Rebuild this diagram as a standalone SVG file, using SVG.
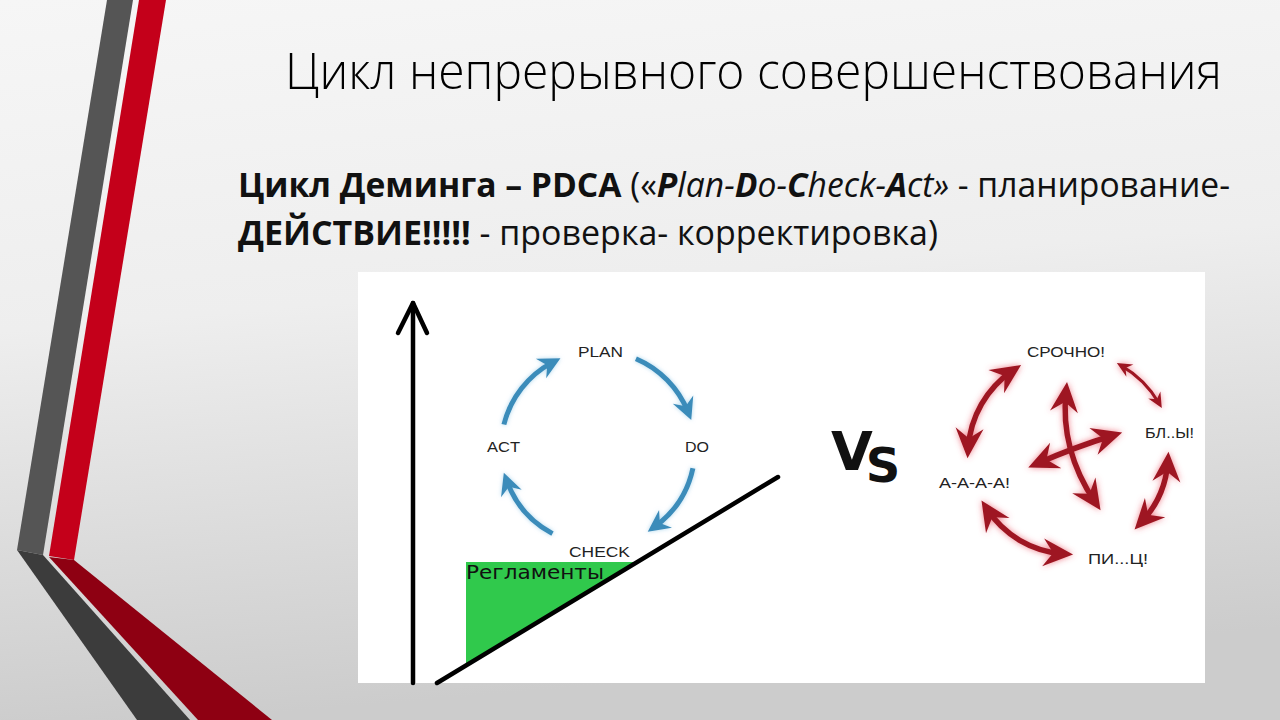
<svg xmlns="http://www.w3.org/2000/svg" width="1280" height="720" viewBox="0 0 1280 720">
  <defs>
    <linearGradient id="bg" x1="0" y1="0" x2="0.15" y2="1">
      <stop offset="0" stop-color="#f6f6f6"/>
      <stop offset="0.45" stop-color="#eeeeee"/>
      <stop offset="1" stop-color="#cccccc"/>
    </linearGradient>
    <filter id="redglow" x="-30%" y="-30%" width="160%" height="160%">
      <feGaussianBlur in="SourceAlpha" stdDeviation="3" result="b"/>
      <feFlood flood-color="#ea4a5a" flood-opacity="0.7"/>
      <feComposite in2="b" operator="in" result="g"/>
      <feMerge><feMergeNode in="g"/><feMergeNode in="SourceGraphic"/></feMerge>
    </filter>
    <filter id="blueglow" x="-30%" y="-30%" width="160%" height="160%">
      <feGaussianBlur in="SourceAlpha" stdDeviation="2" result="b"/>
      <feFlood flood-color="#8cc6e6" flood-opacity="0.7"/>
      <feComposite in2="b" operator="in" result="g"/>
      <feMerge><feMergeNode in="g"/><feMergeNode in="SourceGraphic"/></feMerge>
    </filter>
    <marker id="bhead" markerUnits="userSpaceOnUse" viewBox="-24 -12 26 24" markerWidth="26" markerHeight="24" refX="-9" refY="0" orient="auto">
      <path d="M0,0 L-22,-11 L-15,0 L-22,11 Z" fill="#3b8cba"/>
    </marker>
    <marker id="rhead" markerUnits="userSpaceOnUse" viewBox="-32 -15 34 30" markerWidth="34" markerHeight="30" refX="-10" refY="0" orient="auto-start-reverse">
      <path d="M0,0 L-30,-14 L-20,0 L-30,14 Z" fill="#9e1824"/>
    </marker>
    <marker id="rsmall" markerUnits="userSpaceOnUse" viewBox="-17 -8 19 16" markerWidth="19" markerHeight="16" refX="-5" refY="0" orient="auto-start-reverse">
      <path d="M0,0 L-15,-7 L-10,0 L-15,7 Z" fill="#9e1824"/>
    </marker>
    <style>
      .title { font-family: "Open Sans", "Noto Sans", sans-serif; font-weight: 300; font-size: 50px; fill: #000; }
      .sub { font-family: "Open Sans", "Noto Sans", sans-serif; font-size: 34px; fill: #111; }
      .b { font-weight: 700; }
      .i { font-style: italic; }
      .lbl { font-family: "Liberation Sans", Arial, sans-serif; font-size: 15px; fill: #222; }
      .blue { fill: none; stroke: #3b8cba; stroke-width: 5; marker-end: url(#bhead); }
      .red { fill: none; stroke: #9e1824; stroke-width: 5.5; marker-start: url(#rhead); marker-end: url(#rhead); }
      .redthin { fill: none; stroke: #9e1824; stroke-width: 3; marker-start: url(#rsmall); marker-end: url(#rsmall); }
      .axis { stroke: #000; stroke-width: 4.5; fill: none; stroke-linecap: round; stroke-linejoin: round; }
    </style>
  </defs>

  <!-- background -->
  <rect x="0" y="0" width="1280" height="720" fill="url(#bg)"/>

  <!-- decorative stripes -->
  <g id="stripes">
    <polygon points="107,0 133,0 43,555 17,550" fill="#555555"/>
    <polygon points="139,0 166,0 74,560 49,556" fill="#c4001a"/>
    <polygon points="17,550 43,555 190,720 137,720" fill="#3c3c3c"/>
    <polygon points="49,557 74,560 272,720 198,720" fill="#8e0012"/>
  </g>

  <!-- title -->
  <text class="title" x="285" y="89" textLength="937" lengthAdjust="spacingAndGlyphs">Цикл непрерывного совершенствования</text>

  <!-- subtitle -->
  <text class="sub" x="238" y="197" textLength="992" lengthAdjust="spacingAndGlyphs"><tspan class="b">Цикл Деминга – PDCA</tspan> («<tspan class="b i">P</tspan><tspan class="i">lan-</tspan><tspan class="b i">D</tspan><tspan class="i">o-</tspan><tspan class="b i">C</tspan><tspan class="i">heck-</tspan><tspan class="b i">A</tspan><tspan class="i">ct»</tspan> -  планирование-</text>
  <text class="sub" x="238" y="245" textLength="700" lengthAdjust="spacingAndGlyphs"><tspan class="b">ДЕЙСТВИЕ!!!!!</tspan> - проверка- корректировка)</text>

  <!-- white panel -->
  <rect id="panel" x="358" y="272" width="847" height="411" fill="#ffffff"/>

  <!-- left chart -->
  <g id="regl">
    <polygon points="466,562 637,562 466,665" fill="#30c94c"/>
    <text x="466" y="579" font-family="DejaVu Sans, sans-serif" font-size="19" fill="#111" textLength="138" lengthAdjust="spacingAndGlyphs">Регламенты</text>
  </g>

  <g id="pdca-labels">
    <g id="plan"><text class="lbl" x="578" y="357" textLength="45" lengthAdjust="spacingAndGlyphs">PLAN</text></g>
    <g id="do"><text class="lbl" x="685" y="452" textLength="24" lengthAdjust="spacingAndGlyphs">DO</text></g>
    <g id="check"><text class="lbl" x="569" y="557" textLength="61" lengthAdjust="spacingAndGlyphs">CHECK</text></g>
    <g id="act"><text class="lbl" x="487" y="452" textLength="33" lengthAdjust="spacingAndGlyphs">ACT</text></g>
  </g>

  <g id="pdca-connectors" filter="url(#blueglow)">
    <path class="blue" d="M503.9,424.5 A97,97 0 0 1 552.5,362.4"/>
    <path class="blue" d="M635.9,358.7 A97,97 0 0 1 687.9,411.7"/>
    <path class="blue" d="M692.9,468.2 A97,97 0 0 1 655.0,526.5"/>
    <path class="blue" d="M552.5,533.6 A97,97 0 0 1 506.9,481.2"/>
  </g>

  <g id="axes">
    <line class="axis" x1="413" y1="303" x2="413" y2="683"/>
    <polyline class="axis" points="398,333 413,303 427,333"/>
    <line class="axis" x1="437" y1="683" x2="778" y2="477" stroke-linecap="butt"/>
  </g>

  <!-- VS -->
  <g id="vs">
    <text x="831" y="470" font-family="DejaVu Sans, sans-serif" font-weight="700" font-size="54" fill="#111">V<tspan dx="-7" dy="12" font-size="48">S</tspan></text>
  </g>

  <!-- right chaos -->
  <g id="chaos-labels">
    <g id="srochno"><text class="lbl" x="1027" y="357" textLength="78" lengthAdjust="spacingAndGlyphs">СРОЧНО!</text></g>
    <g id="bly"><text class="lbl" x="1145" y="438" textLength="49" lengthAdjust="spacingAndGlyphs">БЛ..Ы!</text></g>
    <g id="aaaa"><text class="lbl" x="939" y="488" textLength="71" lengthAdjust="spacingAndGlyphs">А-А-А-А!</text></g>
    <g id="pic"><text class="lbl" x="1088" y="564" textLength="60" lengthAdjust="spacingAndGlyphs">ПИ...Ц!</text></g>
  </g>

  <g id="chaos-connectors" filter="url(#redglow)">
    <path class="red" d="M1012.8,370.5 A102,102 0 0 0 968.2,448.2"/>
    <path class="redthin" d="M1121.2,365.6 A103,103 0 0 1 1159.3,403.7"/>
    <path class="red" d="M1167.8,461.7 A98,98 0 0 1 1141.4,522.1"/>
    <path class="red" d="M986.9,508.8 A99,99 0 0 0 1063.1,553.8"/>
    <path class="red" d="M1066,392 Q1060,450 1095,502"/>
    <path class="red" d="M1037.4,463.5 Q1075,447 1112.6,435.5"/>
  </g>
</svg>
